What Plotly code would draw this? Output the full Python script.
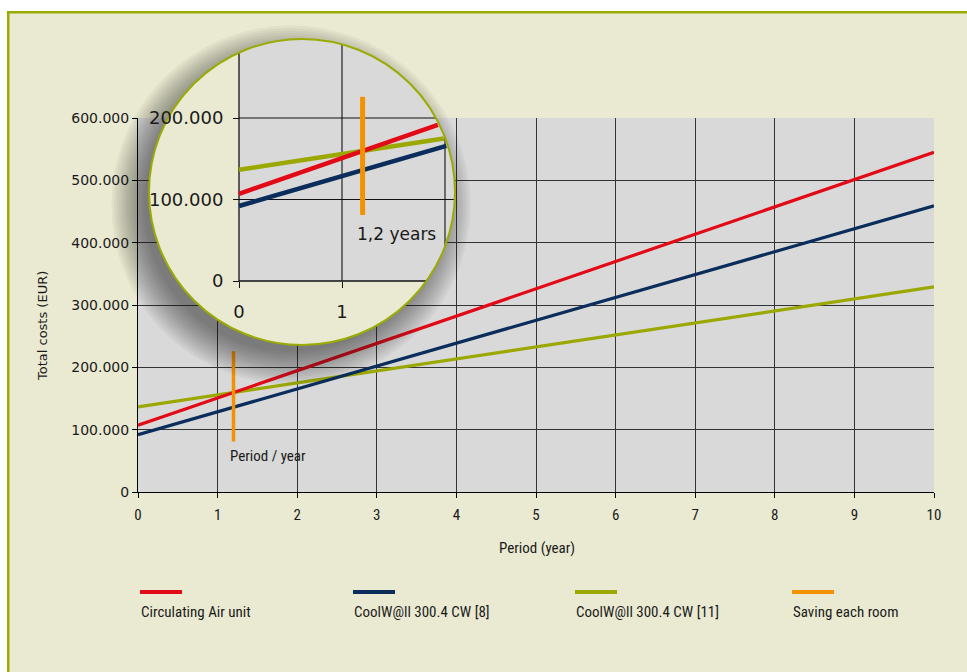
import math
import numpy as np
import plotly.graph_objects as go

# ---------------- data ----------------
years = [0, 10]
circulating_air = [107000, 545000]
coolwall_8 = [92000, 459000]
coolwall_11 = [136500, 329000]
saving_year = [1.2, 1.2]
saving_range = [81000, 226000]

series_names = ["Circulating Air unit", "CoolW@ll 300.4 CW [8]",
                "CoolW@ll 300.4 CW [11]", "Saving each room"]
x_ticks = list(range(0, 11))
y_ticks = [0, 100000, 200000, 300000, 400000, 500000, 600000]
inset_x_ticks = [0, 1]
inset_y_ticks = [0, 100000, 200000]
inset_x_grid = [0, 1, 2]
inset_y_grid = [0, 100000, 200000]

# ---------------- styles ----------------
RED = "#e30a17"
NAVY = "#0b2d5c"
OLIVE = "#9aa800"
ORANGE = "#f39200"
BEIGE = "#eaead2"
BORDER = "#9aab04"
PLOTBG = "#d9d9d9"
GRID = "#333333"
COND = "Liberation Sans Narrow, Roboto Condensed, DejaVu Sans Condensed, Roboto, sans-serif"
DEJA = "DejaVu Sans, Verdana, sans-serif"

W, H = 967, 672            # browser window == figure
ML, MR, MT, MB = 138, 934, 118, 492          # main plot area (px)
IX0, IPX = 239, 103.0                         # inset x: px of 0, px per year
IY0, IPY = 281, 81.5 / 100000                 # inset y: px of 0, px per EUR
CX, CY, CR = 302, 192, 153                    # magnifier circle (px)
DX0, DX1, DY0, DY1 = 95, 500, 12, 405         # inset subplot box (px)


def fx(px):
    return px / W


def fy(py):
    return 1 - py / H


def ix(px):
    return (px - IX0) / IPX


def iy(py):
    return (IY0 - py) / IPY


def ipx(x):
    return IX0 + IPX * x


def ipy(y):
    return IY0 - IPY * y


fig = go.Figure()

# ---------------- main traces ----------------
for vals, col, name in [(coolwall_11, OLIVE, series_names[2]),
                        (coolwall_8, NAVY, series_names[1]),
                        (circulating_air, RED, series_names[0])]:
    fig.add_trace(go.Scatter(x=years, y=vals, mode="lines", name=name,
                             line=dict(color=col, width=3.2),
                             showlegend=False, hoverinfo="skip",
                             xaxis="x", yaxis="y"))
fig.add_trace(go.Scatter(x=saving_year, y=saving_range, mode="lines",
                         name=series_names[3], line=dict(color=ORANGE, width=3.5),
                         showlegend=False, hoverinfo="skip", xaxis="x", yaxis="y"))

# ---------------- inset traces (clipped to the circle) ----------------
def clip_end(v0, v1):
    s = (v1 - v0) / (years[1] - years[0])
    a1, b1 = IPX, IX0 - CX
    a2, b2 = -IPY * s, IY0 - IPY * v0 - CY
    A = a1 * a1 + a2 * a2
    B = 2 * (a1 * b1 + a2 * b2)
    C = b1 * b1 + b2 * b2 - CR * CR
    xe = (-B + math.sqrt(B * B - 4 * A * C)) / (2 * A)
    xe -= 1.5 / math.sqrt(A)
    return xe, s


for vals, col in [(coolwall_11, OLIVE), (coolwall_8, NAVY), (circulating_air, RED)]:
    xe, s = clip_end(vals[0], vals[1])
    fig.add_trace(go.Scatter(x=[years[0], xe], y=[vals[0], vals[0] + s * xe],
                             mode="lines", line=dict(color=col, width=4.5),
                             showlegend=False, hoverinfo="skip",
                             xaxis="x2", yaxis="y2"))
fig.add_trace(go.Scatter(x=saving_year, y=saving_range, mode="lines",
                         line=dict(color=ORANGE, width=5), showlegend=False,
                         hoverinfo="skip", xaxis="x2", yaxis="y2"))

shapes = []
# page background + border
shapes.append(dict(type="rect", xref="paper", yref="paper", x0=fx(7), x1=1, y0=0, y1=fy(11),
                   fillcolor=BEIGE, line=dict(width=0), layer="below"))
shapes.append(dict(type="rect", xref="paper", yref="paper", x0=fx(7), x1=1, y0=fy(13.5), y1=fy(11),
                   fillcolor=BORDER, line=dict(width=0), layer="below"))
shapes.append(dict(type="rect", xref="paper", yref="paper", x0=fx(7), x1=fx(9.5), y0=0, y1=fy(11),
                   fillcolor=BORDER, line=dict(width=0), layer="below"))
# main plot background
shapes.append(dict(type="rect", xref="paper", yref="paper", x0=fx(ML), x1=fx(MR), y0=fy(MB), y1=fy(MT),
                   fillcolor=PLOTBG, line=dict(width=0), layer="below"))

# magnifier shadow (soft, offset to lower left)
for k in range(14):
    r = CR - 6 + 2.5 * k
    sx, sy = CX - 11, CY + 13
    shapes.append(dict(type="circle", xref="x2", yref="y2",
                       x0=ix(sx - r), x1=ix(sx + r), y0=iy(sy + r), y1=iy(sy - r),
                       fillcolor="rgba(20,20,20,0.042)", line=dict(width=0), layer="below"))
# magnifier fill
shapes.append(dict(type="circle", xref="x2", yref="y2",
                   x0=ix(CX - CR), x1=ix(CX + CR), y0=iy(CY + CR), y1=iy(CY - CR),
                   fillcolor=BEIGE, line=dict(width=0), layer="below"))
# inset plot background (circle ∩ quadrant)
t1 = math.atan2(-math.sqrt(CR ** 2 - (IX0 - CX) ** 2), IX0 - CX)
t2 = math.atan2(IY0 - CY, math.sqrt(CR ** 2 - (IY0 - CY) ** 2))
pts = [(CX + CR * math.cos(t), CY + CR * math.sin(t)) for t in np.linspace(t1, t2, 120)]
pts.append((IX0, IY0))
path = "M " + " L ".join(f"{ix(p[0]):.5f},{iy(p[1]):.2f}" for p in pts) + " Z"
shapes.append(dict(type="path", xref="x2", yref="y2", path=path,
                   fillcolor=PLOTBG, line=dict(width=0), layer="below"))
# inset grid lines clipped to circle
for g in inset_x_grid:
    px = ipx(g)
    if abs(px - CX) < CR:
        dy = math.sqrt(CR ** 2 - (px - CX) ** 2)
        top, bot = CY - dy, min(CY + dy, IY0)
        if top < bot:
            shapes.append(dict(type="line", xref="x2", yref="y2", x0=g, x1=g, y0=iy(bot), y1=iy(top),
                               line=dict(color="#111111", width=1.3 if g == 0 else 1.1), layer="below"))
for g in inset_y_grid:
    py = ipy(g)
    if abs(py - CY) < CR:
        dx = math.sqrt(CR ** 2 - (py - CY) ** 2)
        left, right = max(CX - dx, IX0), CX + dx
        if left < right:
            shapes.append(dict(type="line", xref="x2", yref="y2", x0=ix(left), x1=ix(right), y0=g, y1=g,
                               line=dict(color="#111111", width=1.3 if g == 0 else 1.1), layer="below"))
# magnifier outline
shapes.append(dict(type="circle", xref="x2", yref="y2",
                   x0=ix(CX - CR), x1=ix(CX + CR), y0=iy(CY + CR), y1=iy(CY - CR),
                   fillcolor="rgba(0,0,0,0)", line=dict(color=BORDER, width=2), layer="below"))

# legend samples
legend_x = [140, 353, 575, 792]
legend_cols = [RED, NAVY, OLIVE, ORANGE]
annotations = []
for lx, col, name in zip(legend_x, legend_cols, series_names):
    shapes.append(dict(type="line", xref="paper", yref="paper", x0=fx(lx), x1=fx(lx + 42),
                       y0=fy(592), y1=fy(592), line=dict(color=col, width=4), layer="below"))
    annotations.append(dict(text=name, xref="paper", yref="paper", x=fx(lx - 1), y=fy(612),
                            xanchor="left", yanchor="middle", showarrow=False,
                            font=dict(family=COND, size=15, color="#1a1a1a")))

annotations += [
    dict(text="Total costs (EUR)", xref="paper", yref="paper", x=fx(42), y=fy(326), textangle=-90,
         showarrow=False, xanchor="center", yanchor="middle",
         font=dict(family=DEJA, size=13, color="#1a1a1a")),
    dict(text="Period (year)", xref="paper", yref="paper", x=fx(537), y=fy(548),
         showarrow=False, xanchor="center", yanchor="middle",
         font=dict(family=COND, size=15, color="#1a1a1a")),
    dict(text="Period / year", xref="paper", yref="paper", x=fx(228), y=fy(456),
         showarrow=False, xanchor="left", yanchor="middle",
         font=dict(family=COND, size=15, color="#1a1a1a")),
    dict(text="1,2 years", xref="paper", yref="paper", x=fx(355), y=fy(234),
         showarrow=False, xanchor="left", yanchor="middle",
         font=dict(family=DEJA, size=17, color="#1a1a1a")),
]

fig.update_layout(
    width=W, height=H,
    margin=dict(l=0, r=0, t=0, b=0, pad=0, autoexpand=False),
    paper_bgcolor="white", plot_bgcolor="rgba(0,0,0,0)",
    separators=",.",
    showlegend=False,
    hovermode=False,
    shapes=shapes, annotations=annotations,
    xaxis=dict(domain=[fx(ML), fx(MR)], range=[0, 10], tickvals=x_ticks, automargin=False,
               showgrid=True, gridcolor=GRID, gridwidth=1, zeroline=False,
               showline=True, linecolor="black", linewidth=1,
               ticks="outside", ticklen=5, tickcolor="black", ticklabelstandoff=4,
               tickfont=dict(family=COND, size=15, color="#1a1a1a"), anchor="y"),
    yaxis=dict(domain=[fy(MB), fy(MT)], range=[0, 600000], tickvals=y_ticks, tickformat=",",
               automargin=False,
               showgrid=True, gridcolor=GRID, gridwidth=1, zeroline=False,
               showline=True, linecolor="black", linewidth=1,
               ticks="outside", ticklen=5, tickcolor="black",
               tickfont=dict(family=DEJA, size=14, color="#1a1a1a"), anchor="x"),
    xaxis2=dict(domain=[fx(DX0), fx(DX1)], range=[ix(DX0), ix(DX1)], anchor="free",
                automargin=False,
                position=fy(IY0), tickvals=inset_x_ticks, showgrid=False, zeroline=False,
                showline=False, ticks="outside", ticklen=6, tickcolor="#111111",
                ticklabelstandoff=8,
                tickfont=dict(family=DEJA, size=18, color="#1a1a1a")),
    yaxis2=dict(domain=[fy(DY1), fy(DY0)], range=[iy(DY1), iy(DY0)], anchor="free",
                automargin=False,
                position=fx(IX0), tickvals=inset_y_ticks, tickformat=",", showgrid=False,
                zeroline=False, showline=False, ticks="outside", ticklen=6, tickcolor="#111111",
                ticklabelstandoff=6,
                tickfont=dict(family=DEJA, size=18, color="#1a1a1a")),
)

fig.write_html(
    "out.html",
    config={"displayModeBar": False, "staticPlot": True},
    post_script="document.body.style.margin='0px';"
                "document.documentElement.style.overflow='hidden';"
                "document.body.style.overflow='hidden';",
)
